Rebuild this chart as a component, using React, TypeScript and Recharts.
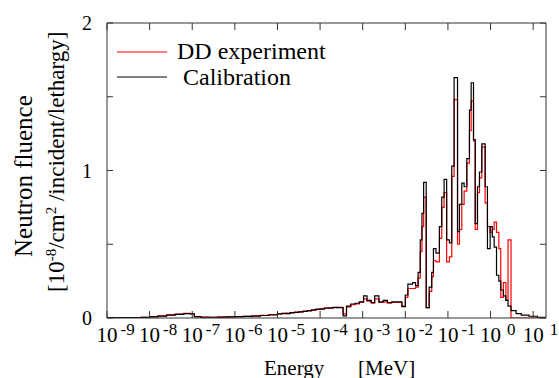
import { Line, LineChart, XAxis, YAxis } from 'recharts';

// bin edges, log10(E / MeV); one more edge than values
const binEdgesLog = [
  -9.0, -8.8, -8.6, -8.4, -8.2, -8.0, -7.8, -7.6, -7.4, -7.2, -7.05, -6.95,
  -6.8, -6.6, -6.4, -6.2, -6.0, -5.8, -5.6, -5.4, -5.2, -5.0, -4.9, -4.8,
  -4.7, -4.6, -4.5, -4.4, -4.3, -4.2, -4.1, -4.0, -3.9, -3.8, -3.7, -3.6,
  -3.46, -3.38, -3.28, -3.18, -3.08, -2.98, -2.9, -2.8, -2.72, -2.62, -2.52,
  -2.42, -2.32, -2.24, -2.08, -2.0, -1.94, -1.83, -1.76, -1.7, -1.65, -1.61,
  -1.57, -1.51, -1.44, -1.38, -1.34, -1.28, -1.2, -1.145, -1.09, -1.03,
  -0.965, -0.91, -0.855, -0.775, -0.73, -0.675, -0.62, -0.557, -0.495,
  -0.455, -0.4, -0.36, -0.307, -0.26, -0.205, -0.127, -0.073, -0.01, 0.04,
  0.085, 0.14, 0.195, 0.24, 0.3, 0.36, 0.41, 0.48, 0.6, 0.72, 0.9, 1.1, 1.301,
];

// DD experiment
const ddValues = [
  0.002, 0.002, 0.003, 0.003, 0.005, 0.009, 0.015, 0.021, 0.026, 0.031, 0.029, 0.01,
  0.006, 0.005, 0.006, 0.008, 0.009, 0.012, 0.014, 0.018, 0.021, 0.027, 0.03, 0.033,
  0.034, 0.04, 0.041, 0.047, 0.048, 0.052, 0.06, 0.06, 0.068, 0.066, 0.07, 0.072,
  0.028, 0.075, 0.09, 0.095, 0.105, 0.13, 0.115, 0.1, 0.13, 0.105, 0.11,
  0.1, 0.105, 0.105, 0.08, 0.14, 0.2, 0.2, 0.21, 0.27, 0.45, 0.62,
  0.82, 0.07, 0.18, 0.28, 0.39, 0.38, 0.54, 0.75, 0.85, 0.38,
  0.415, 0.96, 1.48, 0.5, 0.6, 0.77, 0.86, 1.05, 1.27,
  1.47, 1.2, 0.6, 0.85, 0.95, 1.16, 0.78, 0.62, 0.58, 0.6,
  0.65, 0.58, 0.47, 0.14, 0.24, 0.12, 0.53, 0, 0, 0, 0, 0,
];

// Calibration
const calValues = [
  0.002, 0.002, 0.002, 0.003, 0.004, 0.008, 0.013, 0.019, 0.024, 0.029, 0.027, 0.009,
  0.005, 0.005, 0.006, 0.007, 0.009, 0.011, 0.013, 0.017, 0.022, 0.028, 0.032, 0.03,
  0.036, 0.038, 0.042, 0.045, 0.05, 0.055, 0.058, 0.062, 0.066, 0.068, 0.072, 0.07,
  0.015, 0.08, 0.095, 0.1, 0.11, 0.15, 0.12, 0.105, 0.15, 0.11, 0.12,
  0.105, 0.11, 0.11, 0.077, 0.156, 0.23, 0.24, 0.22, 0.31, 0.53, 0.71,
  0.92, 0.07, 0.21, 0.31, 0.47, 0.44, 0.62, 0.82, 0.94, 0.53,
  0.51, 1.03, 1.63, 0.585, 0.77, 0.915, 0.89, 1.08, 1.41,
  1.595, 1.21, 0.64, 0.89, 0.99, 1.18, 0.89, 0.47, 0.62, 0.55,
  0.48, 0.29, 0.25, 0.19, 0.15, 0.12, 0.08, 0.05, 0.03, 0.02, 0.012, 0.005,
];

const xTicks = [1e-9, 1e-8, 1e-7, 1e-6, 1e-5, 1e-4, 1e-3, 1e-2, 1e-1, 1e0, 1e1];
const yTicks = [0, 0.5, 1, 1.5, 2];
const yLabelled = [0, 1, 2];

const data = binEdgesLog.map((lg, i) => {
  const k = Math.min(i, ddValues.length - 1);
  return { e: Math.pow(10, lg), dd: ddValues[k], cal: calValues[k] };
});

const FONT = 'Liberation Serif';
const AXIS = '#333';
const TICK = 7;

const BottomTick = ({ x, y, payload }: any) => {
  const p = Math.round(Math.log10(payload.value));
  return (
    <g>
      <line x1={x} x2={x} y1={y} y2={y - TICK} stroke={AXIS} />
      <text x={x - 10.5} y={y + 24} fontFamily={FONT} fontSize={21} fill="#000">
        10
        <tspan dx={p < 0 ? 3 : 6} dy={-7} fontSize={17}>
          {p < 0 ? `-${-p}` : `${p}`}
        </tspan>
      </text>
    </g>
  );
};

const TopTick = ({ x, y }: any) => (
  <line x1={x} x2={x} y1={y} y2={y + TICK} stroke={AXIS} />
);

const LeftTick = ({ x, y, payload }: any) => (
  <g>
    <line x1={x} x2={x + TICK - 1} y1={y} y2={y} stroke={AXIS} />
    {yLabelled.includes(payload.value) && (
      <text x={x - 15} y={y + 7} textAnchor="end" fontFamily={FONT} fontSize={20} fill="#000">
        {payload.value}
      </text>
    )}
  </g>
);

const RightTick = ({ x, y }: any) => (
  <line x1={x} x2={x - TICK + 1} y1={y} y2={y} stroke={AXIS} />
);

export default function App() {
  return (
    <div style={{ position: 'relative', width: 559, height: 378, background: '#fff' }}>
      <style>{'body{margin:0}'}</style>
      <LineChart
        width={559}
        height={378}
        data={data}
        margin={{ top: 18, right: 8, bottom: 20, left: 47 }}
      >
        <XAxis
          dataKey="e"
          type="number"
          scale="log"
          domain={[1e-9, 20]}
          allowDataOverflow
          ticks={xTicks}
          interval={0}
          tickSize={0}
          tickMargin={0}
          tick={<BottomTick />}
          axisLine={{ stroke: AXIS }}
          height={40}
        />
        <XAxis
          xAxisId="top"
          orientation="top"
          dataKey="e"
          type="number"
          scale="log"
          domain={[1e-9, 20]}
          allowDataOverflow
          ticks={xTicks}
          interval={0}
          tickSize={0}
          tickMargin={0}
          tick={<TopTick />}
          axisLine={{ stroke: AXIS }}
          height={5}
        />
        <YAxis
          type="number"
          domain={[0, 2]}
          allowDataOverflow
          ticks={yTicks}
          interval={0}
          tickSize={0}
          tickMargin={0}
          tick={<LeftTick />}
          axisLine={{ stroke: AXIS }}
          width={60}
        />
        <YAxis
          yAxisId="right"
          orientation="right"
          type="number"
          domain={[0, 2]}
          allowDataOverflow
          ticks={yTicks}
          interval={0}
          tickSize={0}
          tickMargin={0}
          tick={<RightTick />}
          axisLine={{ stroke: AXIS }}
          width={5}
        />
        <Line
          type="stepAfter"
          dataKey="dd"
          stroke="#ff0000"
          strokeWidth={1.2}
          dot={false}
          isAnimationActive={false}
        />
        <Line
          type="stepAfter"
          dataKey="cal"
          stroke="#000"
          strokeWidth={1.2}
          dot={false}
          isAnimationActive={false}
        />
      </LineChart>
      <svg
        width={559}
        height={378}
        style={{ position: 'absolute', left: 0, top: 0, pointerEvents: 'none' }}
      >
        <line x1={117} x2={167} y1={52} y2={52} stroke="#ff0000" strokeWidth={1.2} />
        <text x={177} y={59} fontFamily={FONT} fontSize={24}>DD experiment</text>
        <line x1={117} x2={167} y1={77} y2={77} stroke="#000" strokeWidth={1.2} />
        <text x={183} y={85} fontFamily={FONT} fontSize={24}>Calibration</text>
        <text x={264} y={375} fontFamily={FONT} fontSize={21}>Energy</text>
        <text x={358} y={375} fontFamily={FONT} fontSize={21}>[MeV]</text>
        <text transform="translate(32 257) rotate(-90)" fontFamily={FONT} fontSize={25}>
          Neutron fluence
        </text>
        <text transform="translate(64 292) rotate(-90)" fontFamily={FONT} fontSize={23}>
          [10
          <tspan dy={-8} fontSize={15}>-8</tspan>
          <tspan dy={8}>/cm</tspan>
          <tspan dy={-8} fontSize={15}>2</tspan>
          <tspan dy={8}> /incident/lethargy]</tspan>
        </text>
      </svg>
    </div>
  );
}
